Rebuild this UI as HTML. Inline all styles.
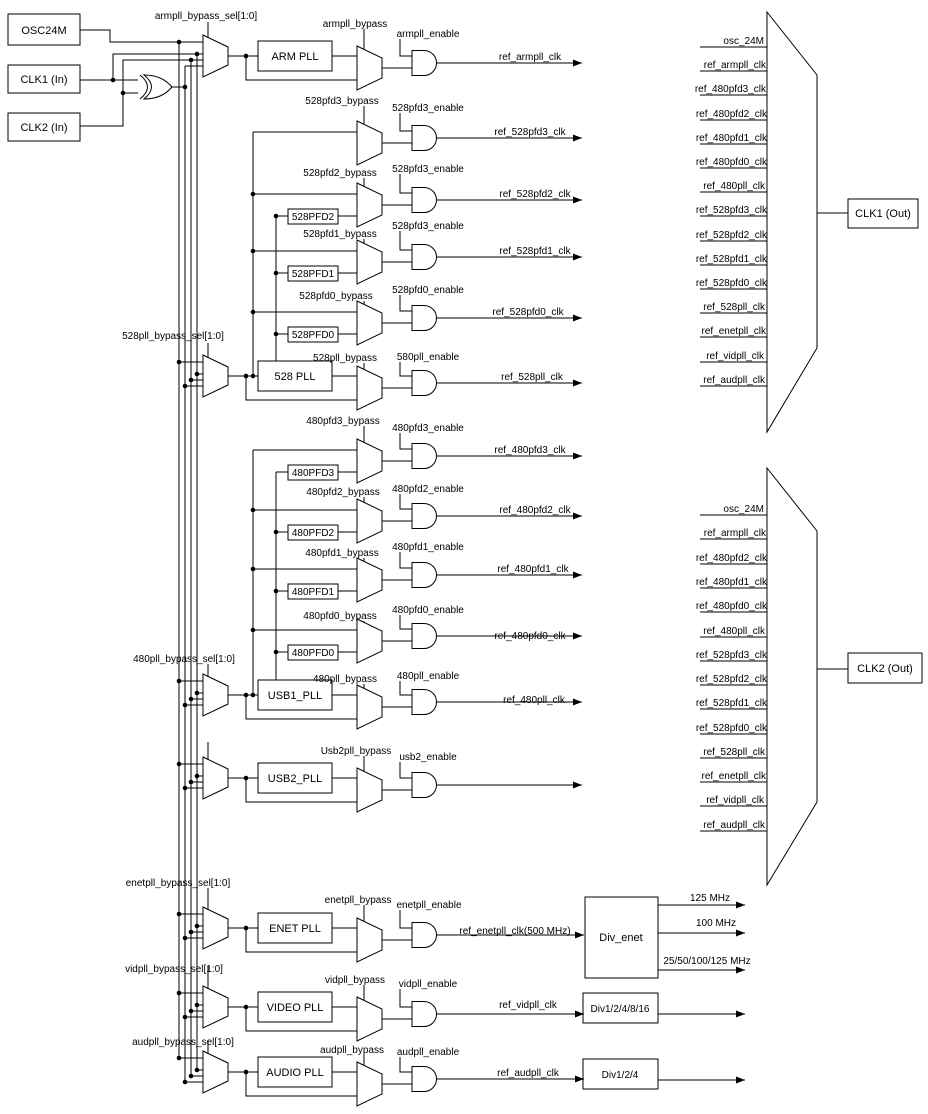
<!DOCTYPE html>
<html><head><meta charset="utf-8"><style>
html,body{margin:0;padding:0;background:#fff;}
svg{display:block;}
text{font-family:"Liberation Sans",Arial,sans-serif;font-size:10px;fill:#000;}
.b{font-size:11px;}
</style></head><body>
<svg width="928" height="1114" viewBox="0 0 928 1114" xmlns="http://www.w3.org/2000/svg">
<defs>
<marker id="a" markerWidth="9" markerHeight="7" refX="9" refY="3.5" orient="auto" markerUnits="userSpaceOnUse"><path d="M0,0L9,3.5L0,7z" fill="#000"/></marker>
<path id="and" d="M0,-12.5H12A12.5,12.5 0 0 1 12,12.5H0Z" fill="#fff" stroke="#000"/>
<path id="bm" d="M0,-22L25,-10L25,10L0,22Z" fill="#fff" stroke="#000"/>
<path id="sm" d="M0,0L25,12L25,30L0,42Z" fill="#fff" stroke="#000"/>
<circle id="d" r="2.3" fill="#000"/>
</defs>
<g stroke="#000" fill="none" stroke-width="1">
<rect x="8" y="14" width="72" height="31"/>
<rect x="8" y="65" width="72" height="28"/>
<rect x="8" y="113" width="72" height="28"/>
<path d="M80,30H110V42H203"/>
<path d="M80,80H138"/>
<path d="M113,80V54H203"/>
<path d="M80,126H123V60H203"/>
<path d="M123,93H138"/>
<path d="M185,66H203"/>
<path d="M140,75Q155,87 140,99"/>
<path d="M144,75Q159,87 144,99Q162,99 172,87Q162,75 144,75Z" fill="#fff"/>
<path d="M172,87H185"/>
<path d="M179,42V1058M197,54V1070M191,60V1076M185,66V1082"/>
</g>
<g fill="#000">
<use href="#d" x="179" y="42"/><use href="#d" x="197" y="54"/><use href="#d" x="191" y="60"/><use href="#d" x="185" y="87"/>
<use href="#d" x="113" y="80"/><use href="#d" x="123" y="93"/>
</g>
<text class="b" x="44" y="34" text-anchor="middle">OSC24M</text>
<text class="b" x="44" y="83" text-anchor="middle">CLK1 (In)</text>
<text class="b" x="44" y="131" text-anchor="middle">CLK2 (In)</text>

<g stroke="#000" fill="none">
<path d="M179,362H203M197,374H203M191,380H203M185,386H203"/>
<path d="M179,681H203M197,693H203M191,699H203M185,705H203"/>
<path d="M179,764H203M197,776H203M191,782H203M185,788H203"/>
<path d="M179,914H203M197,926H203M191,932H203M185,938H203"/>
<path d="M179,993H203M197,1005H203M191,1011H203M185,1017H203"/>
<path d="M179,1058H203M197,1070H203M191,1076H203M185,1082H203"/>
<path d="M208,22V37M208,343V357M208,664V676M208,742V759M208,888V909M208,966V988M208,1040V1053"/>
</g>
<g>
<use href="#d" x="179" y="362"/><use href="#d" x="197" y="374"/><use href="#d" x="191" y="380"/><use href="#d" x="185" y="386"/>
<use href="#d" x="179" y="681"/><use href="#d" x="197" y="693"/><use href="#d" x="191" y="699"/><use href="#d" x="185" y="705"/>
<use href="#d" x="179" y="764"/><use href="#d" x="197" y="776"/><use href="#d" x="191" y="782"/><use href="#d" x="185" y="788"/>
<use href="#d" x="179" y="914"/><use href="#d" x="197" y="926"/><use href="#d" x="191" y="932"/><use href="#d" x="185" y="938"/>
<use href="#d" x="179" y="993"/><use href="#d" x="197" y="1005"/><use href="#d" x="191" y="1011"/><use href="#d" x="185" y="1017"/>
<use href="#d" x="179" y="1058"/><use href="#d" x="197" y="1070"/><use href="#d" x="191" y="1076"/><use href="#d" x="185" y="1082"/>
<use href="#sm" x="203" y="35"/><use href="#sm" x="203" y="355"/><use href="#sm" x="203" y="674"/><use href="#sm" x="203" y="757"/>
<use href="#sm" x="203" y="907"/><use href="#sm" x="203" y="986"/><use href="#sm" x="203" y="1051"/>
</g>
<text x="206" y="19" text-anchor="middle">armpll_bypass_sel[1:0]</text>
<text x="173" y="339" text-anchor="middle">528pll_bypass_sel[1:0]</text>
<text x="184" y="662" text-anchor="middle">480pll_bypass_sel[1:0]</text>
<text x="178" y="886" text-anchor="middle">enetpll_bypass_sel[1:0]</text>
<text x="174" y="972" text-anchor="middle">vidpll_bypass_sel[1:0]</text>
<text x="183" y="1045" text-anchor="middle">audpll_bypass_sel[1:0]</text>

<g stroke="#000" fill="none">
<path d="M228,56H258M332,56H357M246,56V80H357"/>
<path d="M228,376H258M332,376H357M246,376V400H357"/>
<path d="M228,695H258M332,695H357M246,695V719H357"/>
<path d="M228,778H258M332,778H357M246,778V802H357"/>
<path d="M228,928H258M332,928H357M246,928V952H357"/>
<path d="M228,1007H258M332,1007H357M246,1007V1031H357"/>
<path d="M228,1072H258M332,1072H357M246,1072V1096H357"/>
<rect x="258" y="41" width="74" height="30" fill="#fff"/>
<rect x="258" y="361" width="74" height="30" fill="#fff"/>
<rect x="258" y="680" width="74" height="30" fill="#fff"/>
<rect x="258" y="763" width="74" height="30" fill="#fff"/>
<rect x="258" y="913" width="74" height="30" fill="#fff"/>
<rect x="258" y="992" width="74" height="30" fill="#fff"/>
<rect x="258" y="1057" width="74" height="30" fill="#fff"/>
<path d="M253,132V376M276,216V361"/>
<path d="M253,194H357M253,251H357M253,312H357M253,132H357"/>
<path d="M276,216H288M338,216H357M276,273H288M338,273H357M276,334H288M338,334H357"/>
<rect x="288" y="209" width="50" height="15"/><rect x="288" y="266" width="50" height="15"/><rect x="288" y="327" width="50" height="15"/>
<path d="M253,450V695M276,472V680"/>
<path d="M253,450H357M253,510H357M253,569H357M253,630H357"/>
<path d="M276,472H288M338,472H357M276,532H288M338,532H357M276,591H288M338,591H357M276,652H288M338,652H357"/>
<rect x="288" y="465" width="50" height="15"/><rect x="288" y="525" width="50" height="15"/><rect x="288" y="584" width="50" height="15"/><rect x="288" y="645" width="50" height="15"/>
</g>
<g>
<use href="#d" x="246" y="56"/><use href="#d" x="246" y="376"/><use href="#d" x="253" y="376"/>
<use href="#d" x="246" y="695"/><use href="#d" x="253" y="695"/><use href="#d" x="246" y="778"/>
<use href="#d" x="246" y="928"/><use href="#d" x="246" y="1007"/><use href="#d" x="246" y="1072"/>
<use href="#d" x="253" y="194"/><use href="#d" x="253" y="251"/><use href="#d" x="253" y="312"/>
<use href="#d" x="276" y="216"/><use href="#d" x="276" y="273"/><use href="#d" x="276" y="334"/>
<use href="#d" x="253" y="510"/><use href="#d" x="253" y="569"/><use href="#d" x="253" y="630"/>
<use href="#d" x="276" y="532"/><use href="#d" x="276" y="591"/><use href="#d" x="276" y="652"/>
</g>
<text class="b" x="295" y="60" text-anchor="middle">ARM PLL</text>
<text class="b" x="295" y="380" text-anchor="middle">528 PLL</text>
<text class="b" x="295" y="699" text-anchor="middle">USB1_PLL</text>
<text class="b" x="295" y="782" text-anchor="middle">USB2_PLL</text>
<text class="b" x="295" y="932" text-anchor="middle">ENET PLL</text>
<text class="b" x="295" y="1011" text-anchor="middle">VIDEO PLL</text>
<text class="b" x="295" y="1076" text-anchor="middle">AUDIO PLL</text>
<text x="313" y="220" text-anchor="middle">528PFD2</text>
<text x="313" y="277" text-anchor="middle">528PFD1</text>
<text x="313" y="338" text-anchor="middle">528PFD0</text>
<text x="313" y="476" text-anchor="middle">480PFD3</text>
<text x="313" y="536" text-anchor="middle">480PFD2</text>
<text x="313" y="595" text-anchor="middle">480PFD1</text>
<text x="313" y="656" text-anchor="middle">480PFD0</text>

<g stroke="#000" fill="none">
<path d="M382,68H412M400,39V56H412M364,29V49M437,63H582" marker-end="url(#a)"/>
<path d="M382,143H412M400,113V131H412M364,106V124M437,138H582" marker-end="url(#a)"/>
<path d="M382,205H412M400,174V193H412M364,178V186M437,200H582" marker-end="url(#a)"/>
<path d="M382,262H412M400,231V250H412M364,239V243M437,257H582" marker-end="url(#a)"/>
<path d="M382,323H412M400,295V311H412M364,301V304M437,318H582" marker-end="url(#a)"/>
<path d="M382,388H412M400,362V376H412M364,363V369M437,383H582" marker-end="url(#a)"/>
<path d="M382,461H412M400,433V449H412M364,426V442M437,456H582" marker-end="url(#a)"/>
<path d="M382,521H412M400,494V509H412M364,497V502M437,516H582" marker-end="url(#a)"/>
<path d="M382,580H412M400,552V568H412M364,558V561M437,575H582" marker-end="url(#a)"/>
<path d="M382,641H412M400,615V629H412M364,621V622M437,636H582" marker-end="url(#a)"/>
<path d="M382,707H412M400,681V695H412M364,684V688M437,702H582" marker-end="url(#a)"/>
<path d="M382,790H412M400,762V778H412M364,756V771M437,785H582" marker-end="url(#a)"/>
<path d="M382,940H412M400,910V928H412M364,905V921M437,935H584" marker-end="url(#a)"/>
<path d="M382,1019H412M400,989V1007H412M364,985V1000M437,1014H584" marker-end="url(#a)"/>
<path d="M382,1084H412M400,1057V1072H412M364,1055V1065M437,1079H584" marker-end="url(#a)"/>
</g>
<g>
<use href="#bm" x="357" y="68"/><use href="#bm" x="357" y="143"/><use href="#bm" x="357" y="205"/><use href="#bm" x="357" y="262"/>
<use href="#bm" x="357" y="323"/><use href="#bm" x="357" y="388"/><use href="#bm" x="357" y="461"/><use href="#bm" x="357" y="521"/>
<use href="#bm" x="357" y="580"/><use href="#bm" x="357" y="641"/><use href="#bm" x="357" y="707"/><use href="#bm" x="357" y="790"/>
<use href="#bm" x="357" y="940"/><use href="#bm" x="357" y="1019"/><use href="#bm" x="357" y="1084"/>
<use href="#and" x="412" y="63"/><use href="#and" x="412" y="138"/><use href="#and" x="412" y="200"/><use href="#and" x="412" y="257"/>
<use href="#and" x="412" y="318"/><use href="#and" x="412" y="383"/><use href="#and" x="412" y="456"/><use href="#and" x="412" y="516"/>
<use href="#and" x="412" y="575"/><use href="#and" x="412" y="636"/><use href="#and" x="412" y="702"/><use href="#and" x="412" y="785"/>
<use href="#and" x="412" y="935"/><use href="#and" x="412" y="1014"/><use href="#and" x="412" y="1079"/>
</g>
<g text-anchor="middle">
<text x="355" y="27">armpll_bypass</text><text x="428" y="37">armpll_enable</text><text x="530" y="60">ref_armpll_clk</text>
<text x="342" y="104">528pfd3_bypass</text><text x="428" y="111">528pfd3_enable</text><text x="530" y="135">ref_528pfd3_clk</text>
<text x="340" y="176">528pfd2_bypass</text><text x="428" y="172">528pfd3_enable</text><text x="535" y="197">ref_528pfd2_clk</text>
<text x="340" y="237">528pfd1_bypass</text><text x="428" y="229">528pfd3_enable</text><text x="535" y="254">ref_528pfd1_clk</text>
<text x="336" y="299">528pfd0_bypass</text><text x="428" y="293">528pfd0_enable</text><text x="528" y="315">ref_528pfd0_clk</text>
<text x="345" y="361">528pll_bypass</text><text x="428" y="360">580pll_enable</text><text x="532" y="380">ref_528pll_clk</text>
<text x="343" y="424">480pfd3_bypass</text><text x="428" y="431">480pfd3_enable</text><text x="530" y="453">ref_480pfd3_clk</text>
<text x="343" y="495">480pfd2_bypass</text><text x="428" y="492">480pfd2_enable</text><text x="535" y="513">ref_480pfd2_clk</text>
<text x="342" y="556">480pfd1_bypass</text><text x="428" y="550">480pfd1_enable</text><text x="533" y="572">ref_480pfd1_clk</text>
<text x="340" y="619">480pfd0_bypass</text><text x="428" y="613">480pfd0_enable</text><text x="530" y="639">ref_480pfd0_clk</text>
<text x="345" y="682">480pll_bypass</text><text x="428" y="679">480pll_enable</text><text x="534" y="703">ref_480pll_clk</text>
<text x="356" y="754">Usb2pll_bypass</text><text x="428" y="760">usb2_enable</text>
<text x="358" y="903">enetpll_bypass</text><text x="429" y="908">enetpll_enable</text><text x="515" y="934">ref_enetpll_clk(500 MHz)</text>
<text x="355" y="983">vidpll_bypass</text><text x="428" y="987">vidpll_enable</text><text x="528" y="1008">ref_vidpll_clk</text>
<text x="352" y="1053">audpll_bypass</text><text x="428" y="1055">audpll_enable</text><text x="528" y="1076">ref_audpll_clk</text>
</g>

<g stroke="#000" fill="none">
<rect x="585" y="897" width="73" height="81"/>
<rect x="583" y="993" width="75" height="30"/>
<rect x="583" y="1059" width="75" height="30"/>
<path d="M658,905H745" marker-end="url(#a)"/>
<path d="M658,933H745" marker-end="url(#a)"/>
<path d="M658,970H745" marker-end="url(#a)"/>
<path d="M658,1014H745" marker-end="url(#a)"/>
<path d="M658,1080H745" marker-end="url(#a)"/>
</g>
<text class="b" x="621" y="941" text-anchor="middle">Div_enet</text>
<text x="620" y="1012" text-anchor="middle">Div1/2/4/8/16</text>
<text x="620" y="1078" text-anchor="middle">Div1/2/4</text>
<text x="710" y="901" text-anchor="middle">125 MHz</text>
<text x="716" y="926" text-anchor="middle">100 MHz</text>
<text x="707" y="964" text-anchor="middle">25/50/100/125 MHz</text>

<g stroke="#000" fill="none">
<path d="M767,12L817,75V348L767,432Z"/>
<path d="M817,213H848"/>
<rect x="848" y="199" width="70" height="29"/>
<path d="M700,47H767M700,71H767M700,95H767M700,120H767M700,144H767M700,168H767M700,192H767M700,216H767M700,241H767M700,265H767M700,289H767M700,313H767M700,337H767M700,362H767M700,386H767"/>
<path d="M767,468L817,531V802L767,885Z"/>
<path d="M817,669H848"/>
<rect x="848" y="653" width="74" height="30"/>
<path d="M700,515H767M700,539H767M700,564H767M700,588H767M700,612H767M700,637H767M700,661H767M700,685H767M700,709H767M700,734H767M700,758H767M700,782H767M700,806H767M700,831H767"/>
</g>
<text class="b" x="883" y="217" text-anchor="middle">CLK1 (Out)</text>
<text class="b" x="885" y="672" text-anchor="middle">CLK2 (Out)</text>
<g text-anchor="end">
<text x="764" y="44">osc_24M</text>
<text x="766" y="68">ref_armpll_clk</text>
<text x="766" y="92">ref_480pfd3_clk</text>
<text x="767" y="117">ref_480pfd2_clk</text>
<text x="767" y="141">ref_480pfd1_clk</text>
<text x="767" y="165">ref_480pfd0_clk</text>
<text x="765" y="189">ref_480pll_clk</text>
<text x="767" y="213">ref_528pfd3_clk</text>
<text x="767" y="238">ref_528pfd2_clk</text>
<text x="767" y="262">ref_528pfd1_clk</text>
<text x="767" y="286">ref_528pfd0_clk</text>
<text x="765" y="310">ref_528pll_clk</text>
<text x="766" y="334">ref_enetpll_clk</text>
<text x="764" y="359">ref_vidpll_clk</text>
<text x="765" y="383">ref_audpll_clk</text>
<text x="764" y="512">osc_24M</text>
<text x="766" y="536">ref_armpll_clk</text>
<text x="767" y="561">ref_480pfd2_clk</text>
<text x="767" y="585">ref_480pfd1_clk</text>
<text x="767" y="609">ref_480pfd0_clk</text>
<text x="765" y="634">ref_480pll_clk</text>
<text x="767" y="658">ref_528pfd3_clk</text>
<text x="767" y="682">ref_528pfd2_clk</text>
<text x="767" y="706">ref_528pfd1_clk</text>
<text x="767" y="731">ref_528pfd0_clk</text>
<text x="765" y="755">ref_528pll_clk</text>
<text x="766" y="779">ref_enetpll_clk</text>
<text x="764" y="803">ref_vidpll_clk</text>
<text x="765" y="828">ref_audpll_clk</text>
</g>
</svg>
</body></html>
